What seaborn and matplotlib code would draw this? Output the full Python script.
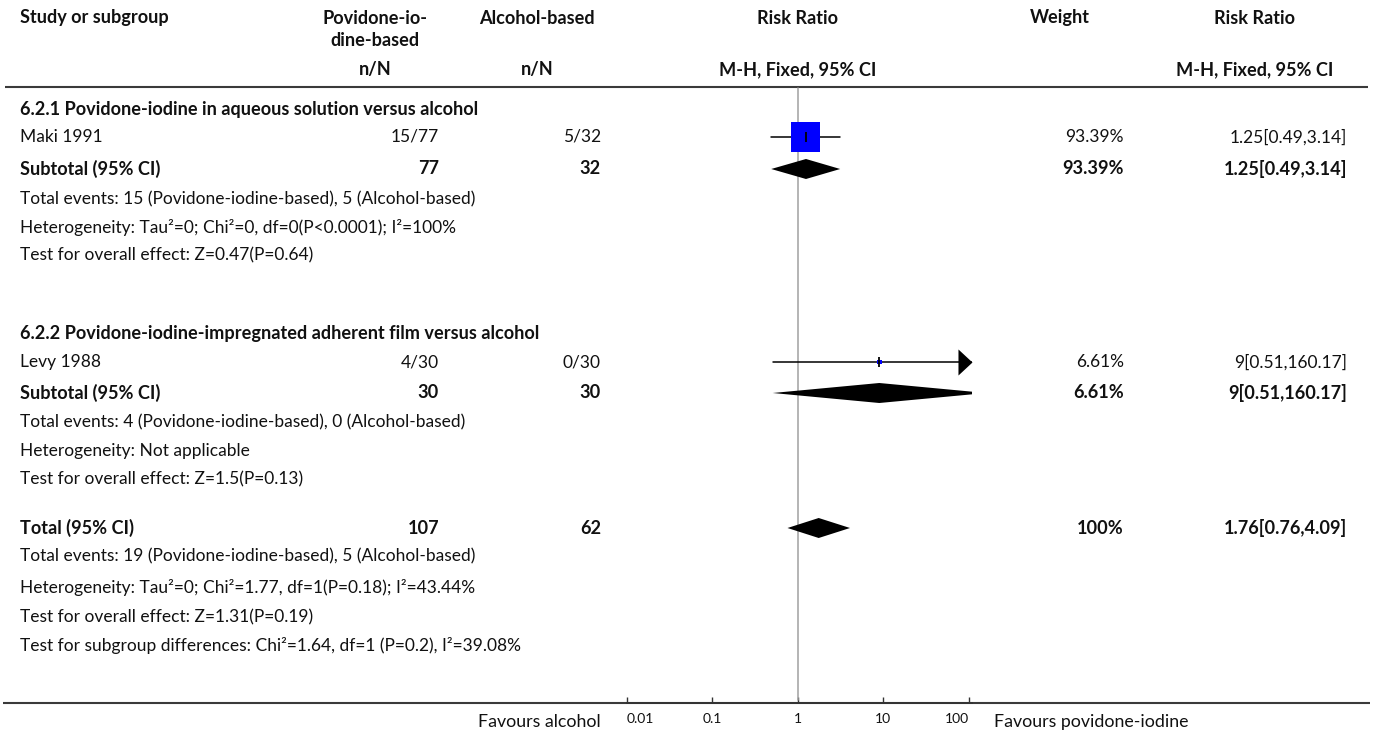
import numpy as np
import pandas as pd
import matplotlib
matplotlib.use("Agg")
import matplotlib.pyplot as plt
from matplotlib.patches import Polygon
from matplotlib.ticker import NullLocator
import seaborn as sns

# ---- data -------------------------------------------------------------
studies = ["Maki 1991", "Levy 1988"]
events_pvi = [15, 4]
total_pvi = [77, 30]
events_alc = [5, 0]
total_alc = [32, 30]
rr = [1.25, 9.0]
rr_lo = [0.49, 0.51]
rr_hi = [3.14, 160.17]
weights = [93.39, 6.61]

subgroup_titles = [
    "6.2.1 Povidone-iodine in aqueous solution versus alcohol",
    "6.2.2 Povidone-iodine-impregnated adherent film versus alcohol",
]
sub_rr = [1.25, 9.0]
sub_lo = [0.49, 0.51]
sub_hi = [3.14, 160.17]
sub_weight = [93.39, 6.61]
sub_n_pvi = [77, 30]
sub_n_alc = [32, 30]
sub_notes = [
    ["Total events: 15 (Povidone-iodine-based), 5 (Alcohol-based)",
     "Heterogeneity: Tau²=0; Chi²=0, df=0(P<0.0001); I²=100%",
     "Test for overall effect: Z=0.47(P=0.64)"],
    ["Total events: 4 (Povidone-iodine-based), 0 (Alcohol-based)",
     "Heterogeneity: Not applicable",
     "Test for overall effect: Z=1.5(P=0.13)"],
]

tot_rr, tot_lo, tot_hi = 1.76, 0.76, 4.09
tot_n_pvi, tot_n_alc, tot_weight = 107, 62, 100
tot_notes = [
    "Total events: 19 (Povidone-iodine-based), 5 (Alcohol-based)",
    "Heterogeneity: Tau²=0; Chi²=1.77, df=1(P=0.18); I²=43.44%",
    "Test for overall effect: Z=1.31(P=0.19)",
    "Test for subgroup differences: Chi²=1.64, df=1 (P=0.2), I²=39.08%",
]

tick_values = [0.01, 0.1, 1, 10, 100]
tick_labels = ["0.01", "0.1", "1", "10", "100"]

# ---- layout (pixel rows / columns) -----------------------------------
W, H = 1375, 733
ROW_HEAD = [109, 333]
ROW_STUDY = [137, 362]
ROW_SUB = [169, 393]
ROW_NOTES = [[199, 227, 255], [422, 451, 479]]
ROW_TOT = 528
ROW_TOT_NOTES = [556, 588, 617, 646]

X_LABEL = 20
X_PVI = 439
X_ALC = 601
X_W = 1124
X_RR = 1347
HX_PVI = 375
HX_ALC = 537
HX_FP = 797.7
HX_W = 1060
HX_RR = 1255
FP_LEFT, FP_RIGHT = 626.7, 971.7
DECADE = 85.5

sns.set_theme(style="white")
plt.rcParams["font.family"] = ["Lato", "DejaVu Sans"]
FS = 12.5
FS_BOLD = 13.1
TXT = "#111111"

fig = plt.figure(figsize=(W / 100, H / 100), dpi=100)
tab = fig.add_axes([0, 0, 1, 1])
tab.set_xlim(0, W)
tab.set_ylim(H, 0)
tab.axis("off")

fp = fig.add_axes([FP_LEFT / W, 0, (FP_RIGHT - FP_LEFT) / W, 1])
fp.set_xscale("log")
fp.set_xlim(0.01, 10 ** (-2 + (FP_RIGHT - FP_LEFT) / DECADE))
fp.set_ylim(H, 0)
fp.patch.set_alpha(0)
for side in ["top", "left", "right"]:
    fp.spines[side].set_visible(False)
fp.spines["bottom"].set_position(("data", 703))
fp.spines["bottom"].set_color("#333333")
fp.spines["bottom"].set_linewidth(1.4)
fp.set_yticks([])
fp.set_xticks(tick_values)
fp.set_xticklabels(tick_labels)
fp.xaxis.set_minor_locator(NullLocator())
fp.tick_params(axis="x", direction="in", length=4.3, width=1, color="#333333",
               pad=7, labelsize=10, labelcolor=TXT, bottom=True)
fp.grid(False)
tl = fp.get_xticklabels()
tl[0].set_horizontalalignment("left")
tl[-1].set_horizontalalignment("right")


def txt(x, y, s, ha="left", bold=False, size=None):
    if size is None:
        size = FS_BOLD if bold else FS
    tab.text(x, y, s, ha=ha, va="center", fontsize=size, color=TXT,
             fontweight="bold" if bold else "normal")


# ---- header ----------------------------------------------------------
txt(X_LABEL, 18, "Study or subgroup", bold=True)
txt(HX_PVI, 18, "Povidone-io-", ha="center", bold=True)
txt(HX_PVI, 40, "dine-based", ha="center", bold=True)
txt(HX_ALC, 18, "Alcohol-based", ha="center", bold=True)
txt(HX_FP, 18, "Risk Ratio", ha="center", bold=True)
txt(HX_W, 18, "Weight", ha="center", bold=True)
txt(HX_RR, 18, "Risk Ratio", ha="center", bold=True)
txt(HX_PVI, 70, "n/N", ha="center", bold=True)
txt(HX_ALC, 70, "n/N", ha="center", bold=True)
txt(HX_FP, 70, "M-H, Fixed, 95% CI", ha="center", bold=True)
txt(HX_RR, 70, "M-H, Fixed, 95% CI", ha="center", bold=True)
tab.plot([5, 1368], [87, 87], color="#3a3a3a", lw=1.5, solid_capstyle="butt")
tab.plot([3, 1370], [703, 703], color="#3a3a3a", lw=1.5, solid_capstyle="butt")

# line of no effect
fp.plot([1, 1], [88, 700], color="#a0a0a0", lw=1.1, zorder=1)


def fmt_rr(v, lo, hi):
    return f"{v:g}[{lo:g},{hi:g}]"


def diamond(est, lo, hi, y, half=10):
    xs = [lo, est, hi, est]
    ys = [y, y - half, y, y + half]
    fp.add_patch(Polygon(list(zip(xs, ys)), closed=True, color="black",
                 lw=0, zorder=3, clip_on=True))


xmax = fp.get_xlim()[1]

# ---- study rows ------------------------------------------------------
df = pd.DataFrame({"study": studies, "rr": rr, "lo": rr_lo, "hi": rr_hi,
                   "w": weights, "y": ROW_STUDY})
for i, r in df.iterrows():
    hi_draw = min(r.hi, xmax)
    fp.plot([r.lo, hi_draw], [r.y, r.y], color="black", lw=1.1, zorder=2)
    if r.hi > xmax:
        fp.plot([xmax], [r.y], marker=[(0, 0), (-14, 13), (-14, -13), (0, 0)],
                ms=20.2, color="black", mew=0, clip_on=False, zorder=4)
sns.scatterplot(data=df, x="rr", y="y", size="w", sizes=(12, 436),
                size_norm=(min(weights), max(weights)), marker="s",
                color="#0000ff", linewidth=0, legend=False, ax=fp, zorder=3)
fp.plot(df.rr, df.y, ls="none", marker="|", ms=6.5, mew=1.3, color="black", zorder=4)
fp.set_xlabel("")
fp.set_ylabel("")
fp.set_ylim(H, 0)

for g in range(2):
    txt(X_LABEL, ROW_HEAD[g], subgroup_titles[g], bold=True)
    y = ROW_STUDY[g]
    txt(X_LABEL, y, studies[g])
    txt(X_PVI, y, f"{events_pvi[g]}/{total_pvi[g]}", ha="right")
    txt(X_ALC, y, f"{events_alc[g]}/{total_alc[g]}", ha="right")
    txt(X_W, y, f"{weights[g]:g}%", ha="right")
    txt(X_RR, y, fmt_rr(rr[g], rr_lo[g], rr_hi[g]), ha="right")

    y = ROW_SUB[g]
    txt(X_LABEL, y, "Subtotal (95% CI)", bold=True)
    txt(X_PVI, y, f"{sub_n_pvi[g]}", ha="right", bold=True)
    txt(X_ALC, y, f"{sub_n_alc[g]}", ha="right", bold=True)
    txt(X_W, y, f"{sub_weight[g]:g}%", ha="right", bold=True)
    txt(X_RR, y, fmt_rr(sub_rr[g], sub_lo[g], sub_hi[g]), ha="right", bold=True)
    diamond(sub_rr[g], sub_lo[g], sub_hi[g], y)
    for yy, note in zip(ROW_NOTES[g], sub_notes[g]):
        txt(X_LABEL, yy, note)

# ---- overall ---------------------------------------------------------
txt(X_LABEL, ROW_TOT, "Total (95% CI)", bold=True)
txt(X_PVI, ROW_TOT, f"{tot_n_pvi}", ha="right", bold=True)
txt(X_ALC, ROW_TOT, f"{tot_n_alc}", ha="right", bold=True)
txt(X_W, ROW_TOT, f"{tot_weight}%", ha="right", bold=True)
txt(X_RR, ROW_TOT, fmt_rr(tot_rr, tot_lo, tot_hi), ha="right", bold=True)
diamond(tot_rr, tot_lo, tot_hi, ROW_TOT)
for yy, note in zip(ROW_TOT_NOTES, tot_notes):
    txt(X_LABEL, yy, note)

# favours labels
txt(601, 722, "Favours alcohol", ha="right", size=12.8)
txt(994, 722, "Favours povidone-iodine", size=12.8)

fig.savefig("out.png", dpi=100)
